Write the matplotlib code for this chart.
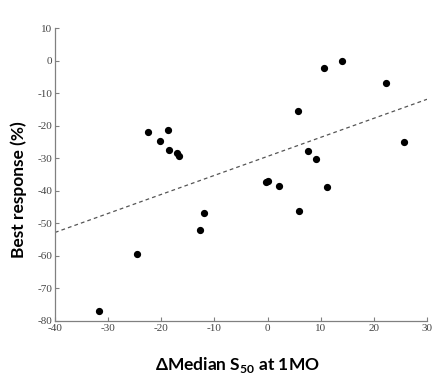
"""
Best response vs change in median S50 at 1 month: scatter with dashed trend line.
"""
import matplotlib
matplotlib.use("Agg")
import matplotlib.pyplot as plt

plt.rcParams.update({"mathtext.fontset": "custom",
                     "mathtext.rm": "Lato",
                     "mathtext.bf": "Lato:bold"})

# data
delta_s50 = [-22.5, -20.2, -18.8, -18.5, -17.1, -16.7, -0.35, 0.03, 2.2, 5.7,
             7.7, 9.2, 10.6, 11.25, 14.1, 22.35, 25.7, -12.0, -12.8, -24.6,
             -31.7, 5.9]
best_resp = [-22.0, -24.6, -21.3, -27.4, -28.5, -29.4, -37.3, -36.9, -38.5, -15.4,
             -27.9, -30.3, -2.3, -38.7, 0.0, -6.9, -24.9, -46.7, -52.0, -59.3,
             -76.9, -46.3]
trend_x = [-40, 30]
trend_y = [-52.8, -11.9]

xticks = [-40, -30, -20, -10, 0, 10, 20, 30]
yticks = [10, 0, -10, -20, -30, -40, -50, -60, -70, -80]

fig = plt.figure(figsize=(4.42, 3.76), dpi=100)
ax = fig.add_axes([0.1244, 0.1463, 0.8416, 0.7792])

ax.plot(trend_x, trend_y, ls=(0, (3, 2.5)), color="#555555", lw=0.9)
ax.plot(delta_s50, best_resp, "o", color="black", ms=4.2, mec="black")

ax.set_xlim(-40, 30)
ax.set_ylim(-80, 10)
ax.set_xticks(xticks)
ax.set_yticks(yticks)
ax.set_xticklabels([str(t) for t in xticks])
ax.set_yticklabels([str(t) for t in yticks])

for s in ("top", "right"):
    ax.spines[s].set_visible(False)
for s in ("left", "bottom"):
    ax.spines[s].set_color("#808080")
    ax.spines[s].set_linewidth(0.9)

ax.tick_params(direction="in", length=3, width=0.8, color="#808080",
               labelcolor="#444444", labelsize=8, pad=2)
for lab in ax.get_xticklabels() + ax.get_yticklabels():
    lab.set_family("Liberation Serif")

ax.set_ylabel("Best response (%)", fontsize=12.5, fontweight="bold",
              family="Lato")
ax.yaxis.set_label_coords(-0.075, 0.45)
ax.set_xlabel("\u0394Median S$_{\\mathbf{50}}$ at 1MO", fontsize=12.5,
              fontweight="bold", family=["Lato", "DejaVu Sans"])
ax.xaxis.set_label_coords(0.49, -0.115)

fig.savefig("out.png", dpi=100)
